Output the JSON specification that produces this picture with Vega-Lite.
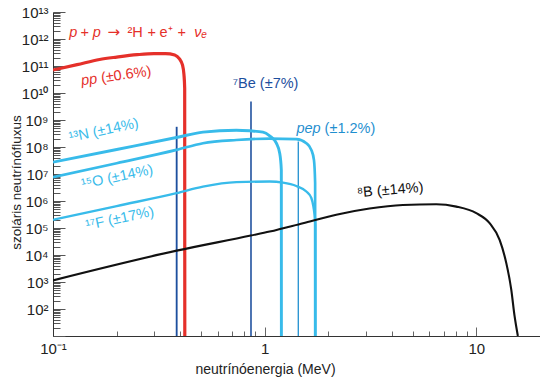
{
  "$schema": "https://vega.github.io/schema/vega-lite/v6.json",
  "width": 487,
  "height": 324,
  "autosize": {"type": "none"},
  "padding": {"left": 53, "top": 12, "right": 0, "bottom": 45},
  "background": "white",
  "config": {"view": {"stroke": null}, "font": "Liberation Sans"},
  "datasets": {
    "curves": [
      {"s": "pp", "i": 0, "E": 0.1, "f": 7.08e10},
      {"s": "pp", "i": 1, "E": 0.13, "f": 1.12e11},
      {"s": "pp", "i": 2, "E": 0.166, "f": 1.74e11},
      {"s": "pp", "i": 3, "E": 0.2, "f": 2.14e11},
      {"s": "pp", "i": 4, "E": 0.25, "f": 2.63e11},
      {"s": "pp", "i": 5, "E": 0.3, "f": 2.88e11},
      {"s": "pp", "i": 6, "E": 0.34, "f": 2.88e11},
      {"s": "pp", "i": 7, "E": 0.376, "f": 2.57e11},
      {"s": "pp", "i": 8, "E": 0.396, "f": 1.82e11},
      {"s": "pp", "i": 9, "E": 0.409, "f": 1.1e11},
      {"s": "pp", "i": 10, "E": 0.4157, "f": 4.8e10},
      {"s": "pp", "i": 11, "E": 0.419, "f": 1.5e10},
      {"s": "pp", "i": 12, "E": 0.4195, "f": 10},
      {"s": "N13", "i": 0, "E": 0.1, "f": 2.75e7},
      {"s": "N13", "i": 1, "E": 0.2, "f": 8.1e7},
      {"s": "N13", "i": 2, "E": 0.383, "f": 2.24e8},
      {"s": "N13", "i": 3, "E": 0.511, "f": 3.55e8},
      {"s": "N13", "i": 4, "E": 0.735, "f": 4.17e8},
      {"s": "N13", "i": 5, "E": 0.849, "f": 3.98e8},
      {"s": "N13", "i": 6, "E": 0.982, "f": 3.55e8},
      {"s": "N13", "i": 7, "E": 1.056, "f": 2.57e8},
      {"s": "N13", "i": 8, "E": 1.136, "f": 1.38e8},
      {"s": "N13", "i": 9, "E": 1.178, "f": 5.9e7},
      {"s": "N13", "i": 10, "E": 1.199, "f": 1.41e7},
      {"s": "N13", "i": 11, "E": 1.2, "f": 10},
      {"s": "O15", "i": 0, "E": 0.1, "f": 7.6e6},
      {"s": "O15", "i": 1, "E": 0.2, "f": 2.5e7},
      {"s": "O15", "i": 2, "E": 0.383, "f": 7.8e7},
      {"s": "O15", "i": 3, "E": 0.511, "f": 1.38e8},
      {"s": "O15", "i": 4, "E": 0.735, "f": 1.82e8},
      {"s": "O15", "i": 5, "E": 1.056, "f": 2.04e8},
      {"s": "O15", "i": 6, "E": 1.411, "f": 1.95e8},
      {"s": "O15", "i": 7, "E": 1.574, "f": 1.38e8},
      {"s": "O15", "i": 8, "E": 1.662, "f": 7.8e7},
      {"s": "O15", "i": 9, "E": 1.71, "f": 3.3e7},
      {"s": "O15", "i": 10, "E": 1.732, "f": 4.7e6},
      {"s": "O15", "i": 11, "E": 1.733, "f": 10},
      {"s": "F17", "i": 0, "E": 0.1, "f": 2.0e5},
      {"s": "F17", "i": 1, "E": 0.2, "f": 6.5e5},
      {"s": "F17", "i": 2, "E": 0.383, "f": 1.95e6},
      {"s": "F17", "i": 3, "E": 0.511, "f": 3.4e6},
      {"s": "F17", "i": 4, "E": 0.735, "f": 5.0e6},
      {"s": "F17", "i": 5, "E": 1.056, "f": 5.25e6},
      {"s": "F17", "i": 6, "E": 1.22, "f": 4.8e6},
      {"s": "F17", "i": 7, "E": 1.411, "f": 3.6e6},
      {"s": "F17", "i": 8, "E": 1.574, "f": 2.24e6},
      {"s": "F17", "i": 9, "E": 1.662, "f": 1.29e6},
      {"s": "F17", "i": 10, "E": 1.7, "f": 6.2e5},
      {"s": "F17", "i": 11, "E": 1.738, "f": 1.32e5},
      {"s": "F17", "i": 12, "E": 1.739, "f": 10},
      {"s": "B8", "i": 0, "E": 0.1, "f": 1.15e3},
      {"s": "B8", "i": 1, "E": 0.384, "f": 1.45e4},
      {"s": "B8", "i": 2, "E": 0.86, "f": 5.25e4},
      {"s": "B8", "i": 3, "E": 1.056, "f": 7.4e4},
      {"s": "B8", "i": 4, "E": 1.517, "f": 1.51e5},
      {"s": "B8", "i": 5, "E": 2.18, "f": 3.1e5},
      {"s": "B8", "i": 6, "E": 3.13, "f": 5.25e5},
      {"s": "B8", "i": 7, "E": 4.5, "f": 7.1e5},
      {"s": "B8", "i": 8, "E": 6.47, "f": 7.6e5},
      {"s": "B8", "i": 9, "E": 8.05, "f": 6.2e5},
      {"s": "B8", "i": 10, "E": 10.0, "f": 3.55e5},
      {"s": "B8", "i": 11, "E": 11.56, "f": 1.51e5},
      {"s": "B8", "i": 12, "E": 12.89, "f": 3.6e4},
      {"s": "B8", "i": 13, "E": 13.86, "f": 5.0e3},
      {"s": "B8", "i": 14, "E": 14.63, "f": 525},
      {"s": "B8", "i": 15, "E": 15.17, "f": 54},
      {"s": "B8", "i": 16, "E": 15.72, "f": 10}
    ],
    "lines": [
      {"s": "Be384", "i": 0, "E": 0.384, "f": 10},
      {"s": "Be384", "i": 1, "E": 0.384, "f": 5.6e8},
      {"s": "Be862", "i": 0, "E": 0.862, "f": 10},
      {"s": "Be862", "i": 1, "E": 0.862, "f": 4.8e9},
      {"s": "pep", "i": 0, "E": 1.442, "f": 10},
      {"s": "pep", "i": 1, "E": 1.442, "f": 1.6e8}
    ]
  },
  "layer": [
    {
      "data": {"name": "lines"},
      "mark": {"type": "line", "clip": true, "strokeCap": "butt"},
      "encoding": {
        "x": {
          "field": "E", "type": "quantitative",
          "scale": {"type": "log", "domain": [0.1, 20], "nice": false},
          "axis": {
            "values": [0.1, 0.2, 0.3, 0.4, 0.5, 0.6, 0.7, 0.8, 0.9, 1, 2, 3, 4, 5, 6, 7, 8, 9, 10, 20],
            "labelExpr": "datum.value == 0.1 ? '10⁻¹' : datum.value == 1 ? '1' : datum.value == 10 ? '10' : ''",
            "tickSize": {"condition": {"test": "datum.value == 0.1 || datum.value == 1 || datum.value == 10", "value": -9}, "value": -5},
            "labelPadding": 14,
            "labelFontSize": 15,
            "labelColor": "#222",
            "labelFlush": false,
            "labelOverlap": false,
            "labelBound": false,
            "tickColor": "#666",
            "domainColor": "#333",
            "grid": false,
            "title": "neutrínóenergia (MeV)",
            "titleFontSize": 14,
            "titleFontWeight": "normal",
            "titleColor": "#222",
            "titleX": 212,
            "titleY": 37,
            "titleAlign": "center",
            "titleBaseline": "alphabetic"
          }
        },
        "y": {
          "field": "f", "type": "quantitative",
          "scale": {"type": "log", "domain": [10, 1e13], "nice": false},
          "axis": {
            "values": [1e1,2e1,3e1,4e1,5e1,6e1,7e1,8e1,9e1,1e2,2e2,3e2,4e2,5e2,6e2,7e2,8e2,9e2,1e3,2e3,3e3,4e3,5e3,6e3,7e3,8e3,9e3,1e4,2e4,3e4,4e4,5e4,6e4,7e4,8e4,9e4,1e5,2e5,3e5,4e5,5e5,6e5,7e5,8e5,9e5,1e6,2e6,3e6,4e6,5e6,6e6,7e6,8e6,9e6,1e7,2e7,3e7,4e7,5e7,6e7,7e7,8e7,9e7,1e8,2e8,3e8,4e8,5e8,6e8,7e8,8e8,9e8,1e9,2e9,3e9,4e9,5e9,6e9,7e9,8e9,9e9,1e10,2e10,3e10,4e10,5e10,6e10,7e10,8e10,9e10,1e11,2e11,3e11,4e11,5e11,6e11,7e11,8e11,9e11,1e12,2e12,3e12,4e12,5e12,6e12,7e12,8e12,9e12,1e13],
            "labelExpr": "datum.value < 50 ? '' : (abs(log(datum.value)/LN10 - round(log(datum.value)/LN10)) < 0.001 ? '10' + (round(log(datum.value)/LN10) >= 10 ? '¹' : '') + substring('⁰¹²³⁴⁵⁶⁷⁸⁹', round(log(datum.value)/LN10) % 10, round(log(datum.value)/LN10) % 10 + 1) : '')",
            "tickSize": {"condition": {"test": "abs(log(datum.value)/LN10 - round(log(datum.value)/LN10)) < 0.001", "value": -12}, "value": -7},
            "labelPadding": 17,
            "labelFontSize": 15,
            "labelColor": "#222",
            "labelOverlap": false,
            "labelBound": false,
            "labelFlush": false,
            "tickColor": "#555",
            "domainColor": "#333",
            "grid": false,
            "title": "szoláris neutrínófluxus",
            "titleFontSize": 13.5,
            "titleFontWeight": "normal",
            "titleColor": "#222",
            "titleAngle": -90,
            "titleX": -33,
            "titleY": 170,
            "titleAlign": "center",
            "titleBaseline": "alphabetic"
          }
        },
        "order": {"field": "i", "type": "quantitative"},
        "detail": {"field": "s"},
        "color": {
          "field": "s", "type": "nominal", "legend": null,
          "scale": {"domain": ["pp", "N13", "O15", "F17", "B8", "Be384", "Be862", "pep"],
                    "range": ["#e5302a", "#38bbea", "#38bbea", "#38bbea", "#111111", "#1d4f9e", "#1d4f9e", "#1f8fcf"]}
        },
        "strokeWidth": {
          "field": "s", "type": "nominal", "legend": null,
          "scale": {"domain": ["pp", "N13", "O15", "F17", "B8", "Be384", "Be862", "pep"],
                    "range": [3.2, 1.3, 1.3, 1.3, 1.4, 2.5, 2.5, 2.1]}
        }
      }
    },
    {
      "data": {"name": "curves"},
      "mark": {"type": "line", "clip": true, "interpolate": "monotone", "strokeJoin": "round"},
      "encoding": {
        "x": {"field": "E", "type": "quantitative"},
        "y": {"field": "f", "type": "quantitative"},
        "order": {"field": "i", "type": "quantitative"},
        "detail": {"field": "s"},
        "color": {"field": "s", "type": "nominal", "legend": null},
        "strokeWidth": {"field": "s", "type": "nominal", "legend": null}
      }
    },
    {
      "data": {"values": [
        {"t": "+", "E": 0.1411, "f": 1.2e12},
        {"t": "²H", "E": 0.2444, "f": 1.2e12},
        {"t": "+", "E": 0.2925, "f": 1.2e12},
        {"t": "e⁺", "E": 0.3424, "f": 1.2e12},
        {"t": "+", "E": 0.4054, "f": 1.2e12}
      ]},
      "mark": {"type": "text", "color": "#e5302a", "fontSize": 14.5, "align": "center", "baseline": "alphabetic"},
      "encoding": {"x": {"field": "E", "type": "quantitative"}, "y": {"field": "f", "type": "quantitative"}, "text": {"field": "t"}}
    },
    {
      "data": {"values": [{"t": "→", "E": 0.1935, "f": 1.2e12}]},
      "mark": {"type": "text", "color": "#e5302a", "font": "DejaVu Sans", "fontSize": 15, "align": "center", "baseline": "alphabetic"},
      "encoding": {"x": {"field": "E", "type": "quantitative"}, "y": {"field": "f", "type": "quantitative"}, "text": {"field": "t"}}
    },
    {
      "data": {"values": [
        {"t": "p", "E": 0.1246, "f": 1.2e12},
        {"t": "p", "E": 0.1608, "f": 1.2e12},
        {"t": "νₑ", "E": 0.4984, "f": 1.2e12}
      ]},
      "mark": {"type": "text", "color": "#e5302a", "fontSize": 14.5, "fontStyle": "italic", "align": "center", "baseline": "alphabetic"},
      "encoding": {"x": {"field": "E", "type": "quantitative"}, "y": {"field": "f", "type": "quantitative"}, "text": {"field": "t"}}
    },
    {
      "data": {"values": [{"t": "pp", "E": 0.1627, "f": 2.34e10}]},
      "mark": {"type": "text", "color": "#e5302a", "fontSize": 14.5, "fontStyle": "italic", "align": "right", "baseline": "alphabetic", "angle": -8},
      "encoding": {"x": {"field": "E", "type": "quantitative"}, "y": {"field": "f", "type": "quantitative"}, "text": {"field": "t"}}
    },
    {
      "data": {"values": [{"t": "(±0.6%)", "E": 0.1627, "f": 2.34e10}]},
      "mark": {"type": "text", "color": "#e5302a", "fontSize": 14.5, "align": "left", "baseline": "alphabetic", "angle": -8, "dx": 4},
      "encoding": {"x": {"field": "E", "type": "quantitative"}, "y": {"field": "f", "type": "quantitative"}, "text": {"field": "t"}}
    },
    {
      "data": {"values": [{"t": "⁷Be (±7%)", "E": 1.011, "f": 1.48e10}]},
      "mark": {"type": "text", "color": "#1d4f9e", "fontSize": 14.5, "align": "center", "baseline": "alphabetic"},
      "encoding": {"x": {"field": "E", "type": "quantitative"}, "y": {"field": "f", "type": "quantitative"}, "text": {"field": "t"}}
    },
    {
      "data": {"values": [{"t": "pep", "E": 1.838, "f": 3.39e8}]},
      "mark": {"type": "text", "color": "#1f8fcf", "fontSize": 14.5, "fontStyle": "italic", "align": "right", "baseline": "alphabetic"},
      "encoding": {"x": {"field": "E", "type": "quantitative"}, "y": {"field": "f", "type": "quantitative"}, "text": {"field": "t"}}
    },
    {
      "data": {"values": [{"t": "(±1.2%)", "E": 1.838, "f": 3.39e8}]},
      "mark": {"type": "text", "color": "#1f8fcf", "fontSize": 14.5, "align": "left", "baseline": "alphabetic", "dx": 4},
      "encoding": {"x": {"field": "E", "type": "quantitative"}, "y": {"field": "f", "type": "quantitative"}, "text": {"field": "t"}}
    },
    {
      "data": {"values": [
        {"t": "¹³N (±14%)", "E": 0.1754, "f": 2.88e8},
        {"t": "¹⁵O (±14%)", "E": 0.2032, "f": 5.37e6},
        {"t": "¹⁷F (±17%)", "E": 0.2088, "f": 1.55e5}
      ]},
      "mark": {"type": "text", "color": "#38bbea", "fontSize": 14.5, "align": "center", "baseline": "alphabetic", "angle": -12},
      "encoding": {"x": {"field": "E", "type": "quantitative"}, "y": {"field": "f", "type": "quantitative"}, "text": {"field": "t"}}
    },
    {
      "data": {"values": [{"t": "⁸B (±14%)", "E": 3.937, "f": 1.74e6}]},
      "mark": {"type": "text", "color": "#111111", "fontSize": 14.5, "align": "center", "baseline": "alphabetic", "angle": -5},
      "encoding": {"x": {"field": "E", "type": "quantitative"}, "y": {"field": "f", "type": "quantitative"}, "text": {"field": "t"}}
    }
  ]
}
